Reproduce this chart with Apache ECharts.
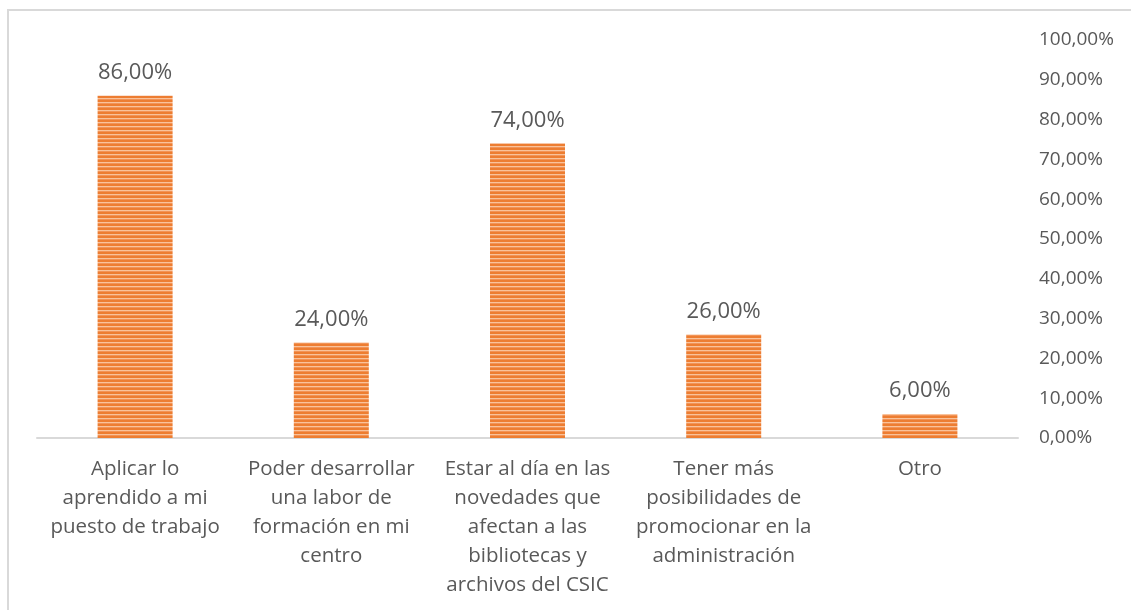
<!DOCTYPE html>
<html>
<head>
<meta charset="utf-8">
<script src="https://cdn.jsdelivr.net/npm/echarts@6/dist/echarts.min.js"></script>
<style>
html, body { margin: 0; padding: 0; background: #fff; }
#main { width: 1131px; height: 610px; }
</style>
</head>
<body>
<div id="main"></div>
<script>
var categories = [
    'Aplicar lo\naprendido a mi\npuesto de trabajo',
    'Poder desarrollar\nuna labor de\nformación en mi\ncentro',
    'Estar al día en las\nnovedades que\nafectan a las\nbibliotecas y\narchivos del CSIC',
    'Tener más\nposibilidades de\npromocionar en la\nadministración',
    'Otro'
];
var values = [86, 24, 74, 26, 6];

var myChart = echarts.init(document.getElementById('main'));

// franjas horizontales como en el original
var stripe = document.createElement('canvas');
stripe.width = 4;
stripe.height = 4;
var ctx = stripe.getContext('2d');
ctx.fillStyle = '#ED7D31';
ctx.fillRect(0, 0, 4, 4);
ctx.fillStyle = '#F9C29A';
ctx.fillRect(0, 2, 4, 1);
ctx.fillStyle = '#F29356';
ctx.fillRect(0, 3, 4, 1);

function pct(v) {
    return v.toFixed(2).replace('.', ',') + '%';
}

var font = '"Open Sans", sans-serif';

var option = {
    backgroundColor: '#fff',
    animation: false,
    graphic: [{
        type: 'rect',
        shape: { x: 8, y: 10, width: 1140, height: 620 },
        style: { fill: 'none', stroke: '#D9D9D9', lineWidth: 2 }
    }],
    grid: { left: 37, right: 113, top: 40, bottom: 172 },
    xAxis: {
        type: 'category',
        data: categories,
        axisLine: { lineStyle: { color: '#D9D9D9', width: 2 } },
        axisTick: { show: false },
        axisLabel: {
            interval: 0,
            color: '#595959',
            fontFamily: font,
            fontSize: 20.5,
            lineHeight: 29,
            margin: 17
        }
    },
    yAxis: {
        type: 'value',
        position: 'right',
        min: 0,
        max: 100,
        interval: 10,
        splitLine: { show: false },
        axisLine: { show: false },
        axisTick: { show: false },
        axisLabel: {
            color: '#595959',
            fontFamily: font,
            fontSize: 19,
            margin: 21,
            padding: [4, 0, 0, 0],
            formatter: function (v) { return pct(v); }
        }
    },
    series: [{
        type: 'bar',
        data: values,
        barWidth: 75,
        itemStyle: {
            color: { image: stripe, repeat: 'repeat' }
        },
        label: {
            show: true,
            position: 'top',
            distance: 12,
            color: '#595959',
            fontFamily: font,
            fontSize: 22,
            formatter: function (p) { return pct(p.value); }
        }
    }]
};

myChart.setOption(option);
</script>
</body>
</html>
